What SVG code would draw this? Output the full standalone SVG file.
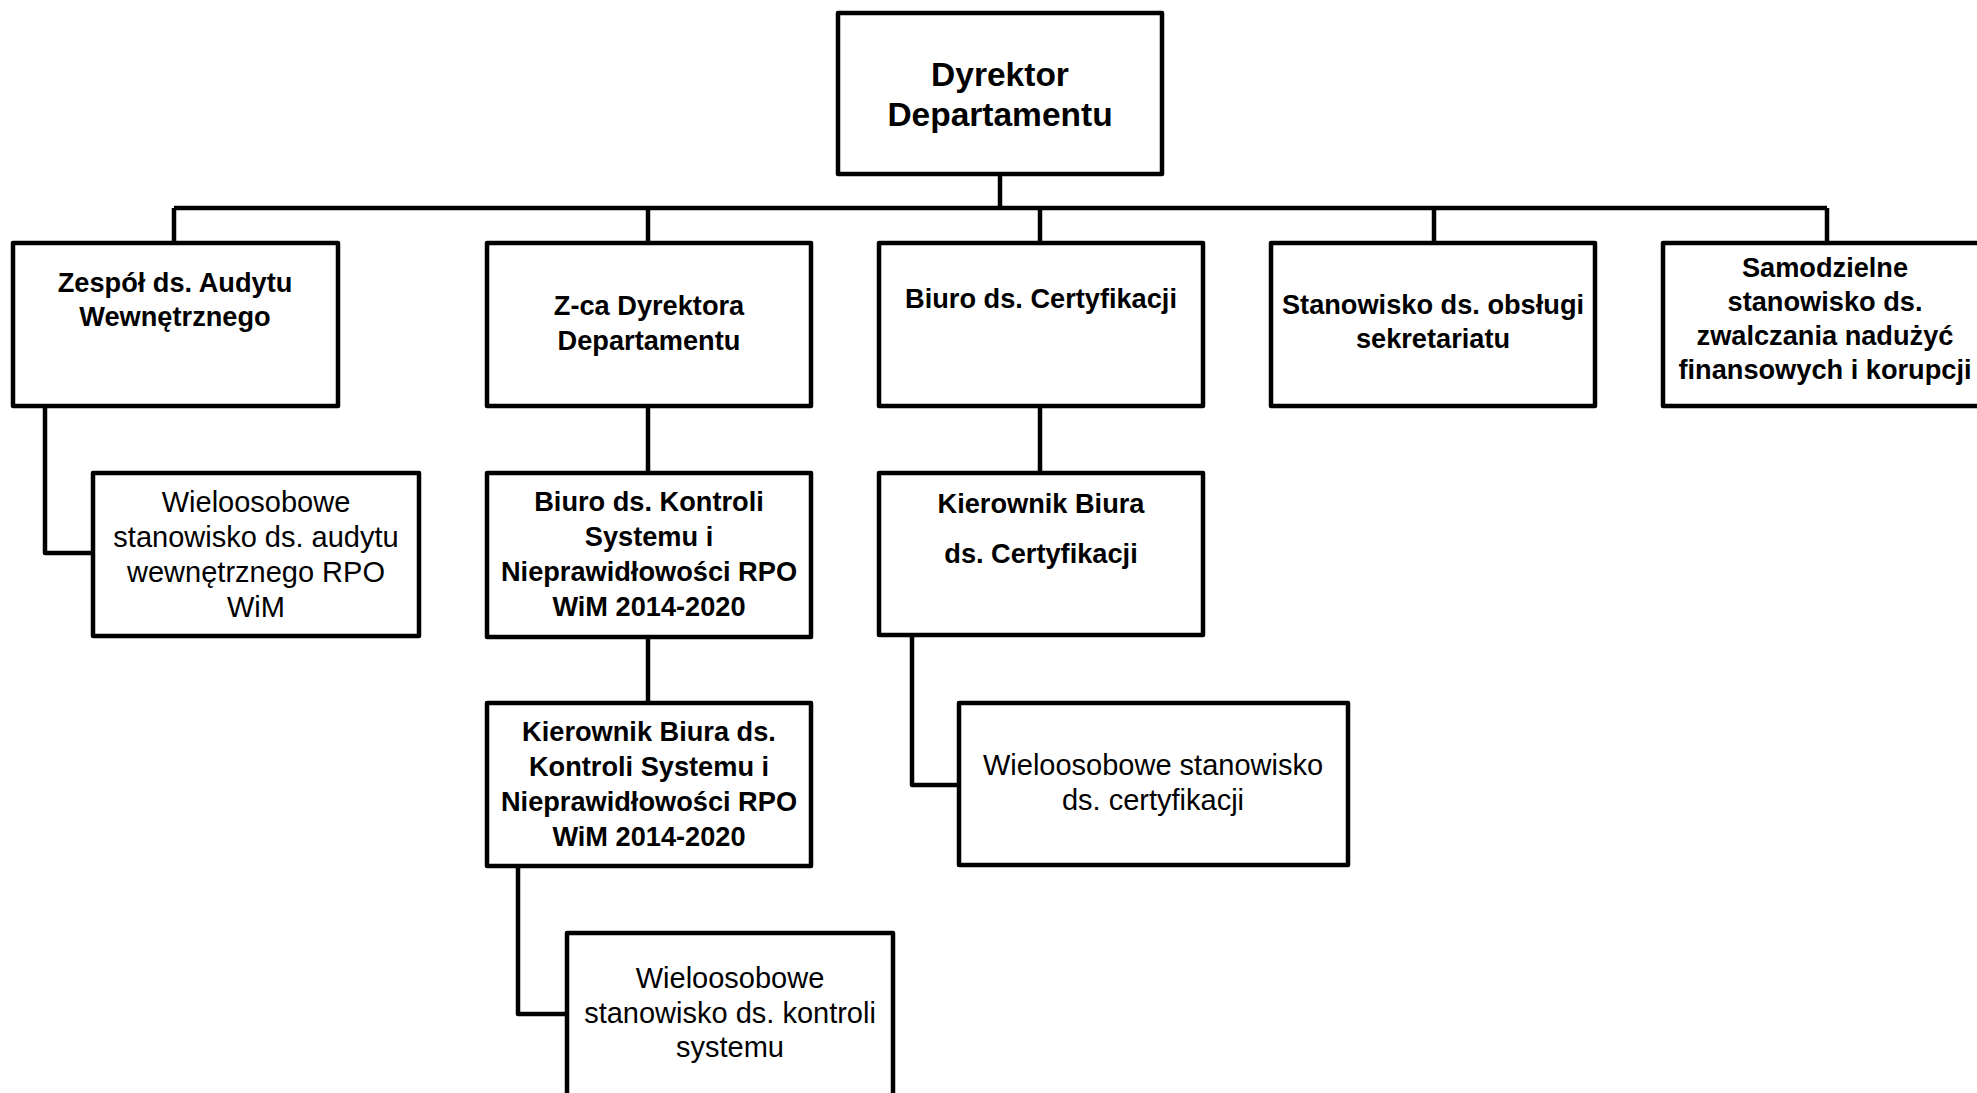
<svg xmlns="http://www.w3.org/2000/svg" width="1977" height="1093" viewBox="0 0 1977 1093">
<style>
.box{fill:#fff;stroke:#000;stroke-width:4.5;stroke-linejoin:round}
.con{fill:none;stroke:#000;stroke-width:4.5;stroke-linejoin:round}
text{font-family:"Liberation Sans",Arial,sans-serif;text-anchor:middle;fill:#000}
.b{font-weight:bold;font-size:27.2px}
.r{font-size:29px}
.d{font-weight:bold;font-size:33.5px}
</style>
<rect width="1977" height="1093" fill="#fff"/>
<g id="connectors" class="con">
<path d="M1000 174V208"/>
<path d="M174 208H1827"/>
<path d="M174 208V243M648 208V243M1040 208V243M1434 208V243M1827 208V243"/>
<path d="M45 406V553H93"/>
<path d="M648 406V473"/>
<path d="M648 637V703"/>
<path d="M518 866V1014H567"/>
<path d="M1040 406V473"/>
<path d="M912 635V785H959"/>
</g>
<g id="dyrektor">
<rect class="box" x="838" y="13" width="324" height="161"/>
<text class="d" x="1000" y="86">Dyrektor</text>
<text class="d" x="1000" y="126">Departamentu</text>
</g>
<g id="zespol-audytu">
<rect class="box" x="13" y="243" width="325" height="163"/>
<text class="b" x="175" y="292">Zespół ds. Audytu</text>
<text class="b" x="175" y="326">Wewnętrznego</text>
</g>
<g id="zca-dyrektora">
<rect class="box" x="487" y="243" width="324" height="163"/>
<text class="b" x="649" y="315">Z-ca Dyrektora</text>
<text class="b" x="649" y="350">Departamentu</text>
</g>
<g id="biuro-certyfikacji">
<rect class="box" x="879" y="243" width="324" height="163"/>
<text class="b" x="1041" y="308">Biuro ds. Certyfikacji</text>
</g>
<g id="stanowisko-sekretariatu">
<rect class="box" x="1271" y="243" width="324" height="163"/>
<text class="b" x="1433" y="314">Stanowisko ds. obsługi</text>
<text class="b" x="1433" y="348">sekretariatu</text>
</g>
<g id="samodzielne-stanowisko">
<rect class="box" x="1663" y="243" width="325" height="163"/>
<text class="b" x="1825" y="277">Samodzielne</text>
<text class="b" x="1825" y="311">stanowisko ds.</text>
<text class="b" x="1825" y="345">zwalczania nadużyć</text>
<text class="b" x="1825" y="379">finansowych i korupcji</text>
</g>
<g id="wieloosobowe-audyt">
<rect class="box" x="93" y="473" width="326" height="163"/>
<text class="r" x="256" y="512">Wieloosobowe</text>
<text class="r" x="256" y="547">stanowisko ds. audytu</text>
<text class="r" x="256" y="582">wewnętrznego RPO</text>
<text class="r" x="256" y="617">WiM</text>
</g>
<g id="biuro-kontroli">
<rect class="box" x="487" y="473" width="324" height="164"/>
<text class="b" x="649" y="511">Biuro ds. Kontroli</text>
<text class="b" x="649" y="546">Systemu i</text>
<text class="b" x="649" y="581">Nieprawidłowości RPO</text>
<text class="b" x="649" y="616">WiM 2014-2020</text>
</g>
<g id="kierownik-certyfikacji">
<rect class="box" x="879" y="473" width="324" height="162"/>
<text class="b" x="1041" y="513">Kierownik Biura</text>
<text class="b" x="1041" y="563">ds. Certyfikacji</text>
</g>
<g id="kierownik-kontroli">
<rect class="box" x="487" y="703" width="324" height="163"/>
<text class="b" x="649" y="741">Kierownik Biura ds.</text>
<text class="b" x="649" y="776">Kontroli Systemu i</text>
<text class="b" x="649" y="811">Nieprawidłowości RPO</text>
<text class="b" x="649" y="846">WiM 2014-2020</text>
</g>
<g id="wieloosobowe-certyfikacja">
<rect class="box" x="959" y="703" width="389" height="162"/>
<text class="r" x="1153" y="775">Wieloosobowe stanowisko</text>
<text class="r" x="1153" y="810">ds. certyfikacji</text>
</g>
<g id="wieloosobowe-kontrola">
<rect class="box" x="567" y="933" width="326" height="175"/>
<text class="r" x="730" y="988">Wieloosobowe</text>
<text class="r" x="730" y="1023">stanowisko ds. kontroli</text>
<text class="r" x="730" y="1057">systemu</text>
</g>
</svg>
